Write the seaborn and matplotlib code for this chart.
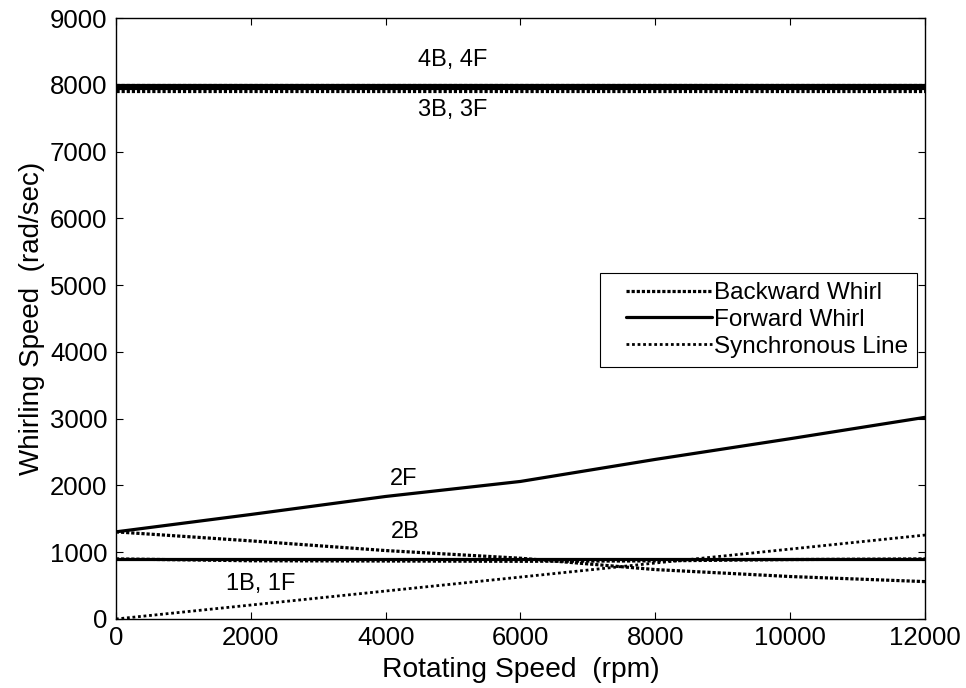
import matplotlib
matplotlib.use("Agg")
import matplotlib.pyplot as plt
import seaborn as sns
from matplotlib.legend_handler import HandlerLine2D
from matplotlib.lines import Line2D

# Campbell diagram data: whirling speed (rad/sec) versus rotating speed (rpm)
rpm = [0, 2000, 4000, 6000, 8000, 10000, 12000]
mode1_forward = [905, 905, 905, 905, 905, 905, 905]
mode1_backward = [900, 872, 868, 864, 870, 890, 900]
mode2_forward = [1305, 1565, 1835, 2060, 2390, 2700, 3020]
mode2_backward = [1305, 1170, 1025, 910, 740, 636, 560]
mode3_forward = [7945, 7945, 7945, 7945, 7945, 7945, 7945]
mode3_backward = [7905, 7905, 7905, 7905, 7905, 7905, 7905]
mode4_forward = [8000, 8000, 8000, 8000, 8000, 8000, 8000]
mode4_backward = [7995, 7995, 7995, 7995, 7995, 7995, 7995]
synchronous = [0, 209, 419, 628, 838, 1047, 1257]

mode_labels = ["4B, 4F", "3B, 3F", "2F", "2B", "1B, 1F"]
label_rpm = [5000, 5000, 4270, 4290, 2150]
label_speed = [8370, 7630, 2100, 1310, 520]

x_ticks = [0, 2000, 4000, 6000, 8000, 10000, 12000]
y_ticks = [0, 1000, 2000, 3000, 4000, 5000, 6000, 7000, 8000, 9000]

sns.set_style("ticks")
plt.rcParams["font.family"] = ["Liberation Sans", "DejaVu Sans"]
plt.rcParams["text.color"] = "black"
plt.rcParams["axes.labelcolor"] = "black"

fig = plt.figure(figsize=(9.66, 6.88), dpi=100)
ax = fig.add_axes([0.120, 0.1003, 0.8376, 0.8735])

dot_b = (0, (1.0, 0.6))
dot_s = (0, (1.0, 1.0))

backward = [mode1_backward, mode2_backward, mode3_backward, mode4_backward]
forward = [mode1_forward, mode2_forward, mode3_forward, mode4_forward]

for i, vals in enumerate(backward):
    sns.lineplot(x=rpm, y=vals, ax=ax, color="black", linewidth=2.3,
                 linestyle=dot_b, label="Backward Whirl" if i == 0 else None)
for i, vals in enumerate(forward):
    sns.lineplot(x=rpm, y=vals, ax=ax, color="black", linewidth=2.3,
                 linestyle="-", label="Forward Whirl" if i == 0 else None)
sns.lineplot(x=rpm, y=synchronous, ax=ax, color="black", linewidth=2.0,
             linestyle=dot_s, label="Synchronous Line")

for txt, xr, ys in zip(mode_labels, label_rpm, label_speed):
    ax.text(xr, ys, txt, ha="center", va="center", fontsize=17, color="black")

ax.set_xlim(0, 12000)
ax.set_ylim(0, 9000)
ax.set_xticks(x_ticks)
ax.set_yticks(y_ticks)
ax.tick_params(direction="in", length=5, width=0.8, top=True, right=True,
               colors="black", labelsize=18.5)
ax.tick_params(axis="x", pad=5)
ax.tick_params(axis="y", pad=6)
for s in ax.spines.values():
    s.set_color("black")
    s.set_linewidth(1.0)

ax.set_xlabel("Rotating Speed  (rpm)", fontsize=20.3, labelpad=5)
ax.set_ylabel("Whirling Speed  (rad/sec)", fontsize=20, labelpad=4)

# legend keys are inset from the left edge of the box
inset = HandlerLine2D(xpad=0.68)
handles, labels = ax.get_legend_handles_labels()
leg = ax.legend(handles, labels, loc="upper right", bbox_to_anchor=(0.99, 0.576),
                borderaxespad=0, fontsize=17.5, handlelength=4.2,
                handletextpad=0.08, labelspacing=0.2, borderpad=0.38,
                fancybox=False, framealpha=1, edgecolor="black",
                handler_map={Line2D: inset})
leg.get_frame().set_linewidth(0.8)

fig.savefig("out.png", dpi=100)
